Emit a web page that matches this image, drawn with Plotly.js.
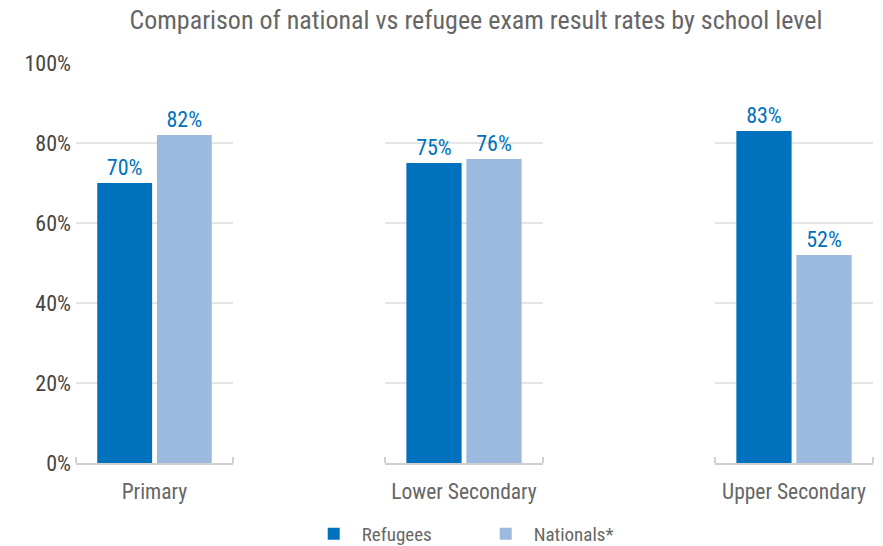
<!DOCTYPE html>
<html>
<head>
<meta charset="utf-8">
<script src="https://cdn.plot.ly/plotly-3.0.1.min.js"></script>
<style>html,body{margin:0;padding:0;background:#fff;}#chart{width:883px;height:546px;}</style>
</head>
<body>
<div id="chart"></div>
<script>
const categories = ["Primary", "Lower Secondary", "Upper Secondary"];
const refugees = [70, 75, 83];
const nationals = [82, 76, 52];
const seriesNames = ["Refugees", "Nationals*"];
const yTickVals = [0, 20, 40, 60, 80, 100];
const yTickText = ["0%", "20%", "40%", "60%", "80%", "100%"];

const FONT = "'Roboto Condensed', 'Liberation Sans Narrow', 'DejaVu Sans Condensed', Roboto, sans-serif";
const C_REF = "#0071bc";
const C_NAT = "#9cb9e0";
const LABEL_C = "#0071bc";

const domains = [[76/883, 233/883], [385/883, 543/883], [715/883, 873/883]];
const traces = [];
const layout = {
  width: 883, height: 546,
  margin: {l: 0, r: 0, t: 63, b: 83},
  paper_bgcolor: "#fff", plot_bgcolor: "#fff",
  font: {family: FONT, color: "#666"},
  barmode: "group", bargap: 0.24, bargroupgap: 0.08,
  title: {text: "Comparison of national vs refugee exam result rates by school level",
          x: 0.539, xanchor: "center", xref: "paper", y: 1 - 20/546, yref: "container", yanchor: "middle",
          font: {family: FONT, size: 26, color: "#666"}},
  showlegend: true,
  legend: {orientation: "h", x: 0.541, xanchor: "center", xref: "paper", y: 12/546, yref: "container", yanchor: "middle",
           font: {family: FONT, size: 19, color: "#666"}, entrywidth: 111, itemwidth: 46},
  shapes: []
};

categories.forEach((cat, i) => {
  const xs = i === 0 ? "x" : "x" + (i + 1);
  const ys = i === 0 ? "y" : "y" + (i + 1);
  const common = {type: "bar", x: [cat], xaxis: xs, yaxis: ys,
    texttemplate: "%{y}%", textposition: "outside", cliponaxis: false,
    textfont: {family: FONT, size: 22, color: LABEL_C}, hoverinfo: "skip"};
  traces.push(Object.assign({}, common, {y: [refugees[i]], name: seriesNames[0],
    marker: {color: C_REF}, legendgroup: "r", showlegend: i === 0}));
  traces.push(Object.assign({}, common, {y: [nationals[i]], name: seriesNames[1],
    marker: {color: C_NAT}, legendgroup: "n", showlegend: i === 0}));
  const xk = i === 0 ? "xaxis" : "xaxis" + (i + 1);
  const yk = i === 0 ? "yaxis" : "yaxis" + (i + 1);
  layout[xk] = {domain: domains[i], anchor: ys, type: "category", range: [-0.5, 0.5],
    showline: true, linecolor: "#d0d0d0", linewidth: 2, showgrid: false, zeroline: false,
    ticks: "outside", ticklen: 8, tickcolor: "rgba(0,0,0,0)",
    tickfont: {family: FONT, size: 21.5, color: "#666"}, fixedrange: true};
  layout[yk] = {domain: [0, 1], anchor: xs, range: [0, 100], tickvals: yTickVals, ticktext: yTickText,
    showticklabels: i === 0, showgrid: true, gridcolor: "#e6e6e6", gridwidth: 2,
    zeroline: false, showline: false, ticks: "", ticklabelstandoff: 4,
    tickfont: {family: FONT, size: 22, color: "#444"}, fixedrange: true};
  [0, 1].forEach(e => {
    layout.shapes.push({type: "line", xref: xs + " domain", yref: ys + " domain",
      x0: e, x1: e, y0: 0, y1: 0.015, line: {color: "#d0d0d0", width: 2}});
  });
});

Plotly.newPlot("chart", traces, layout, {displayModeBar: false, staticPlot: true});
</script>
</body>
</html>
